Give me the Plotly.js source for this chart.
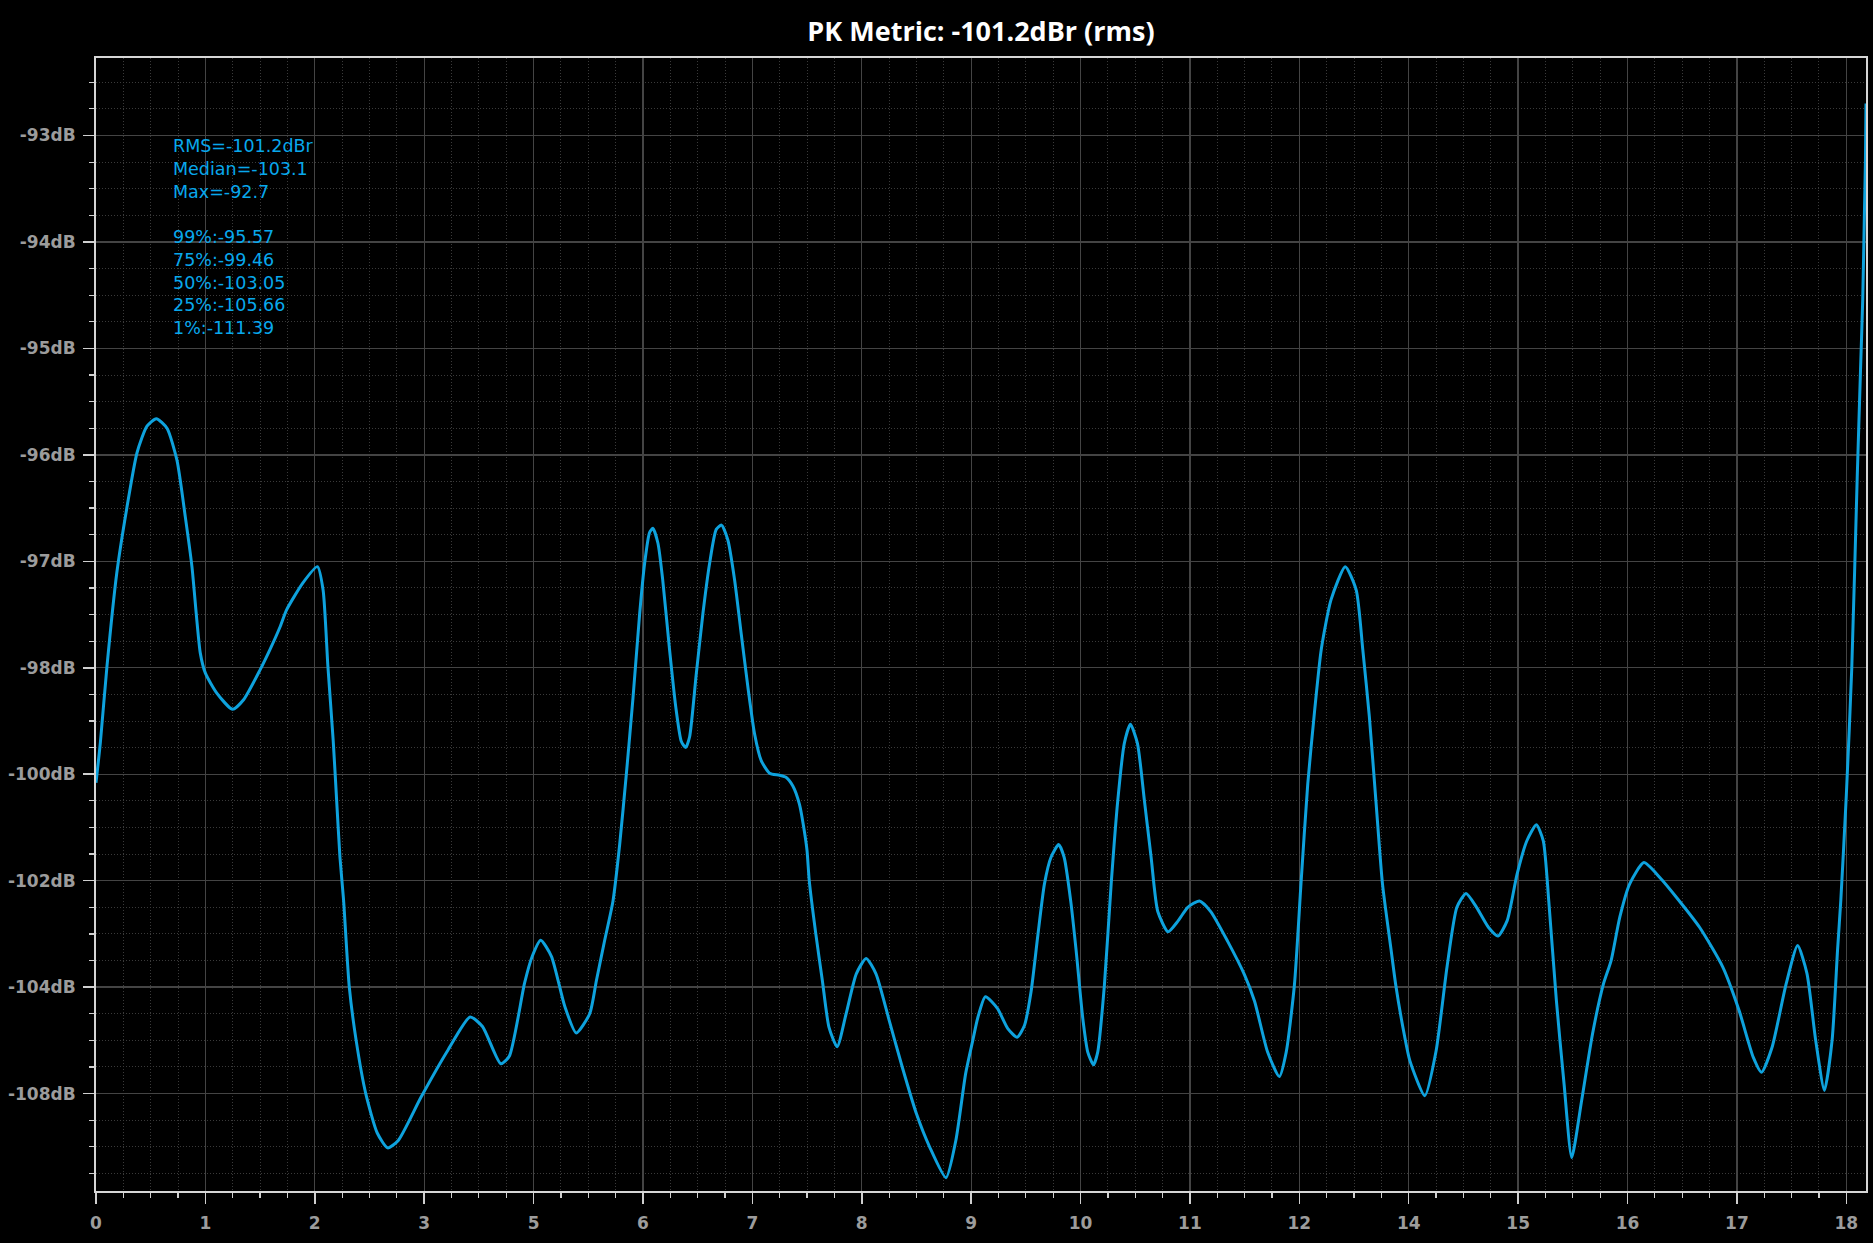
<!DOCTYPE html>
<html>
<head>
<meta charset="utf-8">
<script src="https://cdn.plot.ly/plotly-3.0.1.min.js"></script>
<style>
  html, body { margin: 0; padding: 0; background: #000; }
  #chart { width: 1873px; height: 1243px; }
</style>
</head>
<body>
<div id="chart"></div>
<script>
// ---- tick labels (as printed on the axes) ----
const xTickLabels = [0, 1, 2, 3, 5, 6, 7, 8, 9, 10, 11, 12, 14, 15, 16, 17, 18];
const yTickLabels = [-93, -94, -95, -96, -97, -98, -100, -102, -104, -108];

// ---- series: x in axis-label units, level in dB ----
const freq = [
  0, 0.04, 0.10, 0.19, 0.28, 0.375, 0.466, 0.551, 0.649, 0.74,
  0.816, 0.877, 0.953, 1.0, 1.106, 1.249, 1.349, 1.50, 1.59, 1.685,
  1.74, 1.893, 2.024, 2.076, 2.12, 2.168, 2.20, 2.23, 2.263, 2.315,
  2.378, 2.466, 2.571, 2.666, 2.763, 2.973, 3.436, 3.84, 4.066, 4.40,
  4.556, 4.836, 4.976, 5.065, 5.163, 5.285, 5.39, 5.513, 5.574, 5.65,
  5.726, 5.787, 5.848, 5.909, 5.97, 6.015, 6.06, 6.091, 6.137, 6.18,
  6.24, 6.30, 6.35, 6.39, 6.426, 6.487, 6.548, 6.609, 6.67, 6.718,
  6.776, 6.837, 6.898, 6.959, 7.02, 7.08, 7.157, 7.248, 7.31, 7.37,
  7.43, 7.476, 7.50, 7.52, 7.58, 7.64, 7.70, 7.775, 7.857, 7.95,
  8.04, 8.13, 8.25, 8.37, 8.50, 8.62, 8.77, 8.86, 8.95, 9.015,
  9.06, 9.13, 9.24, 9.335, 9.42, 9.487, 9.548, 9.61, 9.67, 9.73,
  9.80, 9.85, 9.91, 9.96, 10.02, 10.066, 10.118, 10.157, 10.218, 10.28,
  10.34, 10.40, 10.456, 10.52, 10.584, 10.645, 10.706, 10.80, 10.89, 10.98,
  11.087, 11.19, 11.345, 11.497, 11.59, 11.71, 11.817, 11.88, 11.955, 12.03,
  12.154, 12.28, 12.40, 12.58, 12.84, 13.04, 13.16, 13.28, 13.40, 13.52,
  13.68, 13.76, 13.92, 14.01, 14.147, 14.25, 14.35, 14.44, 14.524, 14.62,
  14.73, 14.816, 14.90, 14.99, 15.08, 15.167, 15.23, 15.28, 15.35, 15.42,
  15.49, 15.58, 15.68, 15.78, 15.85, 15.93, 16.02, 16.15, 16.295, 16.45,
  16.66, 16.87, 17.02, 17.15, 17.225, 17.32, 17.45, 17.555, 17.64, 17.72,
  17.80, 17.87, 17.92, 17.95, 18.0, 18.05, 18.10, 18.13, 18.15, 18.165,
  18.175, 18.18
];
const level = [
  -100.16, -99.40, -97.99, -97.11, -96.51, -95.98, -95.73, -95.66, -95.75, -96.05,
  -96.58, -97.05, -97.86, -98.10, -98.48, -98.78, -98.60, -98.04, -97.83, -97.61,
  -97.46, -97.20, -97.05, -97.27, -97.99, -99.36, -100.50, -101.56, -102.36, -103.99,
  -106.00, -108.00, -109.48, -110.04, -109.76, -108.12, -106.36, -105.12, -105.48, -106.88,
  -106.60, -103.92, -103.42, -103.12, -103.42, -104.72, -105.72, -105.00, -103.88, -103.12,
  -102.38, -101.32, -100.00, -98.56, -97.49, -97.02, -96.73, -96.69, -96.83, -97.17,
  -97.80, -98.74, -99.38, -99.50, -99.30, -98.12, -97.49, -97.02, -96.70, -96.66,
  -96.80, -97.17, -97.68, -98.36, -99.24, -99.74, -99.98, -100.02, -100.06, -100.22,
  -100.56, -101.08, -101.44, -102.00, -103.00, -103.88, -105.50, -106.24, -105.00, -103.75,
  -103.46, -103.75, -105.24, -107.00, -108.76, -110.00, -111.16, -109.76, -107.24, -106.00,
  -105.16, -104.36, -104.80, -105.56, -105.88, -105.44, -104.16, -103.02, -102.06, -101.56,
  -101.32, -101.56, -102.38, -103.32, -105.16, -106.44, -106.92, -106.44, -103.96, -102.06,
  -100.50, -99.42, -99.06, -99.42, -100.50, -101.56, -102.58, -102.96, -102.76, -102.50,
  -102.38, -102.58, -103.14, -103.76, -104.52, -106.44, -107.36, -106.44, -103.96, -102.06,
  -100.18, -98.80, -97.83, -97.36, -97.05, -97.27, -97.83, -98.92, -100.50, -102.06,
  -103.32, -103.94, -105.80, -106.76, -108.08, -106.40, -103.62, -102.50, -102.24, -102.50,
  -102.88, -103.04, -102.75, -101.88, -101.25, -100.95, -101.25, -102.38, -104.52, -107.64,
  -110.40, -108.28, -105.76, -103.94, -103.50, -102.68, -102.06, -101.66, -101.94, -102.32,
  -102.88, -103.62, -104.88, -106.64, -107.20, -106.28, -103.94, -103.22, -103.74, -106.00,
  -107.88, -106.00, -103.30, -102.36, -100.40, -98.00, -96.20, -95.20, -94.54, -93.76,
  -93.23, -92.70
];

// ---- statistics text ----
const statHead = ["RMS=-101.2dBr", "Median=-103.1", "Max=-92.7"];
const pctLabels = ["99%", "75%", "50%", "25%", "1%"];
const pctValues = [-95.57, -99.46, -103.05, -105.66, -111.39];
const titleText = "PK Metric: -101.2dBr (rms)";

// ---- piecewise axis scales built from the printed tick labels ----
function makeScale(labels) {
  const n = labels.length;
  return function (v) {
    const inc = labels[n - 1] > labels[0];
    for (let i = 0; i < n - 1; i++) {
      const a = labels[i], b = labels[i + 1];
      const inside = inc ? (v >= a && v <= b) : (v <= a && v >= b);
      if (inside) return i + (v - a) / (b - a);
    }
    const first = inc ? v < labels[0] : v > labels[0];
    if (first) return (v - labels[0]) / (labels[1] - labels[0]);
    return (n - 1) + (v - labels[n - 1]) / (labels[n - 1] - labels[n - 2]);
  };
}
const xScale = makeScale(xTickLabels);
const yIdx = makeScale(yTickLabels);
const yScale = v => -yIdx(v);

const xs = freq.map(xScale);
const ys = level.map(yScale);

const xTickVals = xTickLabels.map(xScale);
const yTickVals = yTickLabels.map(yScale);

const statLines = statHead.concat(["\u00a0"]).concat(
  pctLabels.map((p, i) => p + ":" + pctValues[i].toFixed(2))
);

const gridMajor = "#444444";
const gridMinor = "#3a3a3a";
const axisLine = "#d6d6d6";
const tickFont = { family: "DejaVu Sans, sans-serif", size: 17, color: "#9c9c9c", weight: 700 };

const trace = {
  type: "scatter",
  mode: "lines",
  x: xs,
  y: ys,
  line: { color: "#0ea2dd", width: 3, shape: "spline", smoothing: 0.6 },
  hoverinfo: "skip"
};

const layout = {
  width: 1873,
  height: 1243,
  autosize: false,
  paper_bgcolor: "#000000",
  plot_bgcolor: "#000000",
  margin: { l: 96, r: 7, t: 58, b: 52, pad: 0 },
  showlegend: false,
  title: {
    text: titleText,
    font: { family: "Open Sans, sans-serif", size: 27, color: "#ffffff", weight: 700 },
    x: 0.5, xref: "paper", xanchor: "center",
    y: 1 - 32 / 1243, yref: "container", yanchor: "middle"
  },
  xaxis: {
    range: [0, xScale(18.18)],
    tickmode: "array",
    tickvals: xTickVals,
    ticktext: xTickLabels.map(String),
    ticks: "outside",
    ticklen: 11,
    tickwidth: 1.5,
    tickcolor: "#cfcfcf",
    ticklabelstandoff: 5,
    tickfont: tickFont,
    showgrid: true,
    gridcolor: gridMajor,
    gridwidth: 1.3,
    zeroline: false,
    showline: true,
    mirror: true,
    linecolor: axisLine,
    linewidth: 2,
    minor: {
      tick0: 0, dtick: 0.25,
      ticks: "outside", ticklen: 5, tickwidth: 1.2, tickcolor: "#cfcfcf",
      showgrid: true, gridcolor: gridMinor, gridwidth: 1, griddash: "1px,2px"
    }
  },
  yaxis: {
    range: [yScale(-111.66), yScale(-92.272)],
    tickmode: "array",
    tickvals: yTickVals,
    ticktext: yTickLabels.map(v => v + "dB"),
    ticks: "outside",
    ticklen: 11,
    tickwidth: 1.5,
    tickcolor: "#cfcfcf",
    ticklabelstandoff: 4,
    tickfont: tickFont,
    showgrid: true,
    gridcolor: gridMajor,
    gridwidth: 1.3,
    zeroline: false,
    showline: true,
    mirror: true,
    linecolor: axisLine,
    linewidth: 2,
    minor: {
      tick0: 0, dtick: 0.25,
      ticks: "outside", ticklen: 5, tickwidth: 1.2, tickcolor: "#cfcfcf",
      showgrid: true, gridcolor: gridMinor, gridwidth: 1, griddash: "1px,2px"
    }
  },
  annotations: [{
    text: statLines.join("<br>"),
    xref: "paper", yref: "paper",
    x: 0.0424, y: 0.933,
    xanchor: "left", yanchor: "top", align: "left",
    showarrow: false,
    font: { family: "DejaVu Sans, sans-serif", size: 17.5, color: "#08a8ec" }
  }]
};

Plotly.newPlot("chart", [trace], layout, { displayModeBar: false, staticPlot: true });
</script>
</body>
</html>
